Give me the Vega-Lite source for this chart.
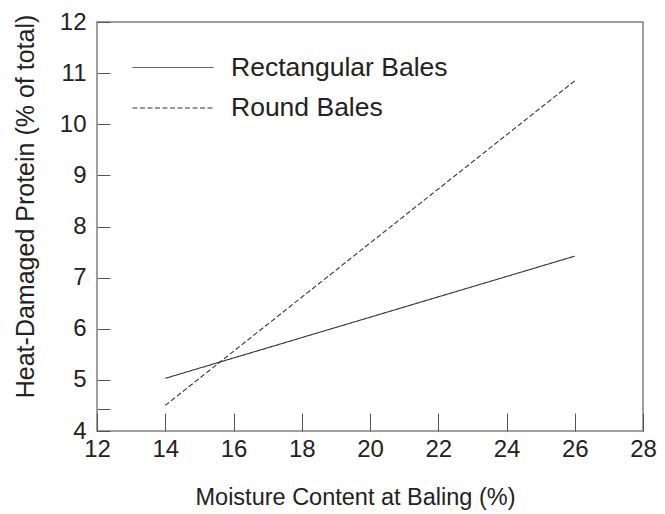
{
  "$schema": "https://vega.github.io/schema/vega-lite/v6.json",
  "width": 546,
  "height": 409,
  "autosize": "none",
  "padding": {"left": 97, "top": 22, "right": 22, "bottom": 83},
  "background": "white",
  "config": {
    "font": "Liberation Sans",
    "view": {"stroke": "#808080", "strokeWidth": 1.5},
    "axis": {"grid": false, "domain": false, "tickColor": "#555555", "tickWidth": 1, "labelColor": "#222222", "titleColor": "#222222", "labelFontSize": 24, "titleFontSize": 23.5, "titleFontWeight": "normal", "labelFont": "Liberation Sans", "titleFont": "Liberation Sans"}
  },
  "data": {
    "values": [
      {"moisture": 14, "protein": 5.03, "type": "Rectangular Bales"},
      {"moisture": 26, "protein": 7.42, "type": "Rectangular Bales"},
      {"moisture": 14, "protein": 4.5, "type": "Round Bales"},
      {"moisture": 26, "protein": 10.85, "type": "Round Bales"}
    ]
  },
  "mark": {"type": "line", "color": "#333333", "strokeWidth": 1.1},
  "encoding": {
    "x": {
      "field": "moisture", "type": "quantitative",
      "scale": {"domain": [12, 28], "nice": false, "zero": false},
      "axis": {"values": [12, 14, 16, 18, 20, 22, 24, 26, 28], "tickSize": -18, "labelPadding": 24, "title": "Moisture Content at Baling (%)", "titleX": 258, "titleY": 66, "titleBaseline": "middle", "titleAlign": "center", "labelFlush": false}
    },
    "y": {
      "field": "protein", "type": "quantitative",
      "scale": {"domain": [4, 12], "nice": false, "zero": false},
      "axis": {"values": [4, 4.43, 5, 6, 7, 8, 9, 10, 11, 12], "labelExpr": "datum.value == 4.43 ? '' : datum.label", "tickSize": -13, "labelPadding": 24, "title": "Heat-Damaged Protein (% of total)", "titleFontSize": 25, "titleX": -72, "titleY": 184, "titleAngle": -90, "titleBaseline": "middle", "titleAlign": "center", "labelFlush": false}
    },
    "strokeDash": {
      "field": "type", "type": "nominal",
      "scale": {"domain": ["Rectangular Bales", "Round Bales"], "range": [[1, 0], [5, 2.5]]},
      "legend": {"title": null, "orient": "none", "legendX": 35, "legendY": 25.5, "symbolType": "stroke", "symbolSize": 6561, "symbolStrokeWidth": 1, "symbolStrokeColor": "#333333", "labelFontSize": 26.5, "labelColor": "#222222", "labelOffset": 17, "rowPadding": 0.5, "clipHeight": 40, "labelLimit": 400, "labelFont": "Liberation Sans"}
    }
  }
}
